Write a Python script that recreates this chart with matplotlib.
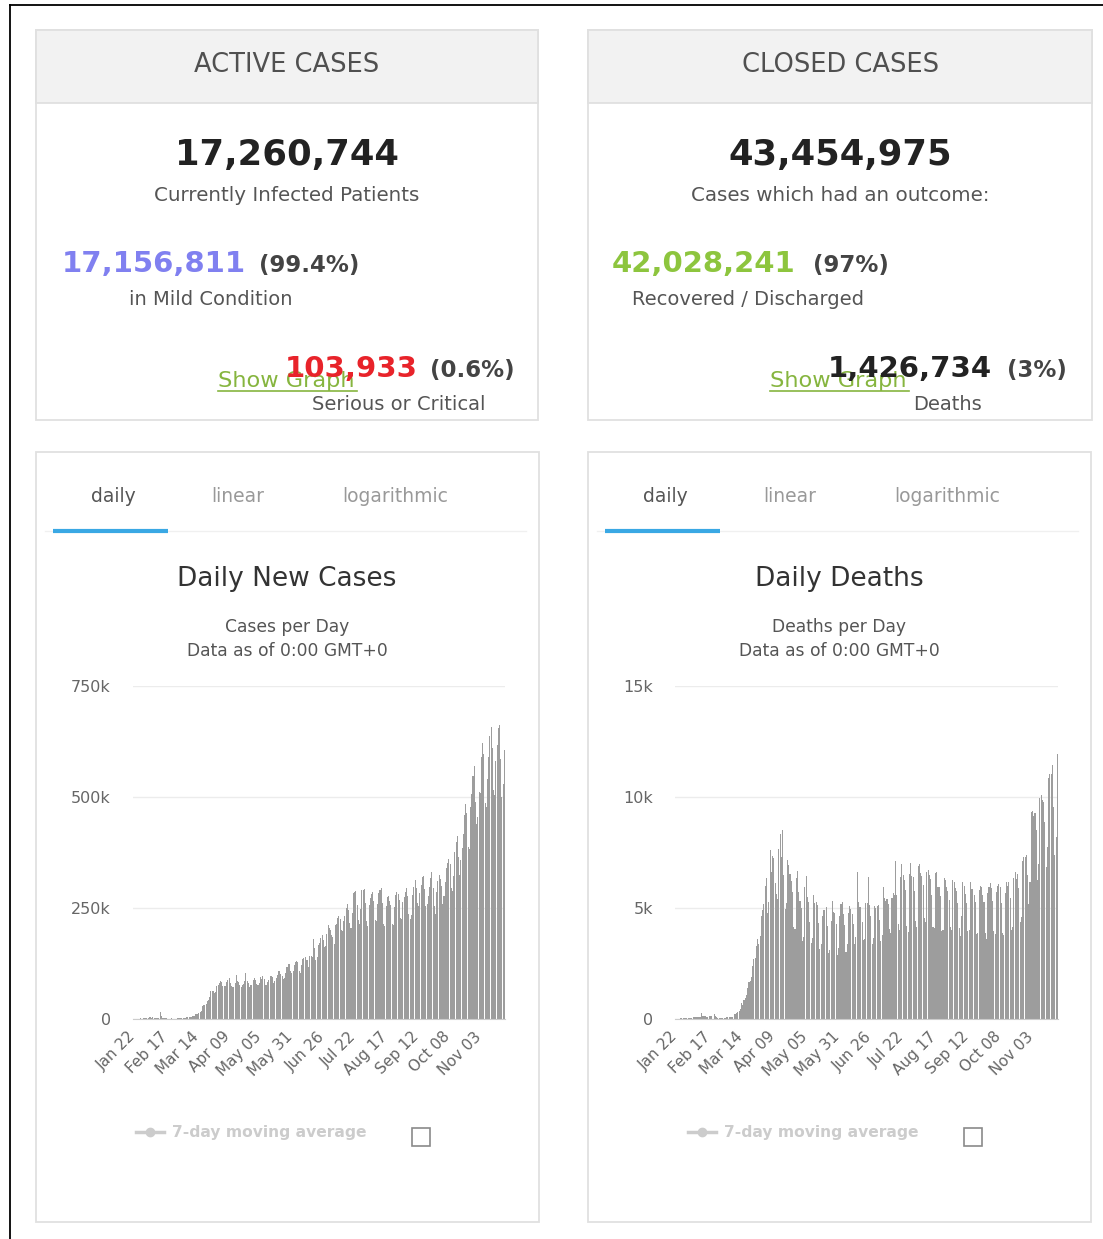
import pandas as pd
import matplotlib
matplotlib.use("Agg")
import matplotlib.pyplot as plt
from matplotlib.patches import Rectangle
from matplotlib.lines import Line2D

plt.rcParams['font.family'] = ['DejaVu Sans']

W, H = 1103, 1239

# ---- summary numbers ----
active_total = "17,260,744"
mild_cases, mild_pct = "17,156,811", "99.4%"
serious_cases, serious_pct = "103,933", "0.6%"
closed_total = "43,454,975"
recovered, recovered_pct = "42,028,241", "97%"
deaths_total, deaths_pct = "1,426,734", "3%"

# ---- daily new cases (thousands), 2020-01-22 .. 2020-11-24 ----
cases_jan = [0.6, 0.1, 0.3, 0.5, 0.7, 0.8, 2.7, 0.6, 2.1, 1.7]
cases_feb = [2.1, 2.6, 3.2, 3.9, 3.7, 3.2, 3.4, 2.7, 3.0, 2.5, 2.0, 2.0, 15.1, 6.5, 2.1,
             2.1, 2.0, 1.9, 0.5, 0.6, 1.0, 1.4, 0.6, 0.6, 0.9, 1.1, 1.4, 1.5, 1.8]
cases_mar = [1.9, 2.0, 2.5, 2.3, 2.8, 3.9, 4.1, 3.8, 4.0, 4.6, 7.2, 7.6, 10.6, 10.8, 11.1, 14.0,
             15.4, 18.5, 28.5, 32.4, 31.5, 33.8, 39.9, 41.8, 49.3, 62.0, 63.3, 63.4, 58.6, 60.1, 75.4]
cases_apr = [77.3, 80.0, 84.5, 84.4, 73.9, 73.2, 73.8, 83.0, 87.1, 91.4, 81.3, 73.6, 71.6, 73.1, 81.0,
             98.0, 86.7, 82.4, 77.7, 73.1, 76.5, 79.8, 86.5, 103.0, 86.5, 81.0, 72.0, 76.8, 77.0, 88.9]
cases_may = [93, 87, 79, 77.7, 82, 94, 91, 96, 89, 77, 76, 84, 87, 96, 97, 95,
             80, 86, 93, 99, 107, 108, 102, 97, 91, 93, 104, 116, 125, 124, 108]
cases_jun = [103, 107, 121, 128, 131, 128, 107, 103, 122, 136, 138, 140, 134, 132, 118,
             143, 142, 140, 181, 159, 132, 140, 167, 171, 182, 190, 178, 163, 165, 191]
cases_jul = [212, 206, 200, 190, 184, 170, 212, 215, 228, 232, 226, 200, 198, 220, 233, 251,
             258, 246, 216, 206, 238, 283, 285, 289, 256, 222, 215, 248, 290, 291, 292]
cases_aug = [262, 221, 210, 256, 272, 282, 287, 265, 224, 221, 258, 283, 290, 294, 262, 213,
             209, 254, 275, 276, 265, 256, 213, 211, 252, 280, 285, 282, 267, 227, 226]
cases_sep = [264, 274, 287, 295, 276, 236, 226, 234, 280, 298, 313, 295, 261, 255, 283,
             302, 319, 323, 292, 255, 260, 277, 297, 317, 332, 296, 254, 237, 285, 310]
cases_oct = [324, 316, 300, 260, 278, 308, 339, 352, 361, 348, 296, 289, 321, 376, 398, 413,
             365, 325, 357, 386, 416, 460, 484, 465, 388, 383, 478, 506, 547, 570, 488]
cases_nov = [440, 456, 511, 509, 591, 622, 597, 487, 478, 540, 589, 638, 657, 611, 515,
             504, 580, 616, 656, 662, 585, 500, 530, 605]

# ---- daily deaths ----
deaths_jan = [0, 8, 16, 15, 24, 26, 26, 38, 43, 46]
deaths_feb = [45, 57, 64, 66, 73, 73, 86, 89, 97, 108, 97, 254, 121, 143, 142,
              106, 98, 139, 115, 125, 3, 208, 154, 79, 63, 62, 45, 58, 67]
deaths_mar = [55, 67, 72, 84, 80, 100, 104, 97, 228, 209, 272, 336, 350, 428, 742, 649,
              872, 956, 1098, 1384, 1670, 1719, 1911, 2394, 2720, 2726, 3296, 3586, 3389, 3737, 4629]
deaths_apr = [4913, 5159, 5987, 6354, 4753, 5268, 7612, 6627, 7342, 7246, 6112, 5613, 5396, 7665, 8315,
              7301, 8516, 6488, 4945, 5211, 7173, 6946, 6544, 6225, 5717, 4166, 4059, 6353, 6672, 5739]
deaths_may = [5323, 4988, 3517, 3689, 5935, 6458, 5495, 5288, 4382, 3443, 3628, 5597, 5205, 5268, 5133, 4307,
              3144, 3380, 4623, 4917, 4903, 5062, 4178, 2958, 3109, 4414, 5317, 4816, 4786, 4265, 2871]
deaths_jun = [3183, 4660, 5161, 5264, 4731, 4244, 3019, 3383, 4754, 5076, 4963, 4751, 4267, 3376, 3681,
              6622, 5273, 5047, 5030, 4386, 3542, 3610, 5210, 5225, 6400, 5122, 4618, 3381, 3667, 5110]
deaths_jul = [5014, 5085, 5138, 4460, 3520, 3774, 5952, 5467, 5323, 5391, 5194, 4046, 3890, 5458, 5665, 5589,
              7128, 5592, 4290, 4015, 6390, 6962, 6474, 6241, 5830, 4173, 3939, 6553, 7010, 6425, 6410]
deaths_aug = [5771, 4397, 4140, 6877, 7003, 6564, 6457, 6014, 4537, 4373, 6608, 6694, 6493, 6306, 5601, 4161,
              4119, 6558, 6619, 5964, 5939, 5542, 3979, 4020, 6332, 6271, 5955, 5749, 5359, 4162, 4029]
deaths_sep = [6270, 6187, 5893, 5785, 5219, 4088, 3758, 4639, 6173, 6013, 5628, 5239, 3979, 4011, 6164,
              5837, 5847, 5605, 5263, 3833, 3858, 5826, 6004, 5948, 5581, 5260, 3864, 3611, 5677, 5934]
deaths_oct = [6137, 5887, 5297, 3961, 3826, 5705, 6006, 6075, 5934, 5242, 3889, 3779, 5693, 6171, 6010, 6175,
              5459, 4003, 4126, 6330, 6611, 6326, 6525, 5919, 4386, 4614, 7097, 7315, 7296, 7369, 6495]
deaths_nov = [5185, 6159, 9330, 9386, 9126, 9288, 8536, 6271, 6995, 9940, 10087, 9860, 9777, 8869, 6846,
              7754, 10850, 11031, 11036, 11456, 9561, 7365, 8188, 11950]

new_cases = (cases_jan + cases_feb + cases_mar + cases_apr + cases_may + cases_jun
             + cases_jul + cases_aug + cases_sep + cases_oct + cases_nov)
new_deaths = (deaths_jan + deaths_feb + deaths_mar + deaths_apr + deaths_may + deaths_jun
              + deaths_jul + deaths_aug + deaths_sep + deaths_oct + deaths_nov)

start_date = "2020-01-22"
tick_labels = ["Jan 22", "Feb 17", "Mar 14", "Apr 09", "May 05", "May 31",
               "Jun 26", "Jul 22", "Aug 17", "Sep 12", "Oct 08", "Nov 03"]
cases_yticks, cases_ylabels = [0, 250, 500, 750], ["0", "250k", "500k", "750k"]
deaths_yticks, deaths_ylabels = [0, 5000, 10000, 15000], ["0", "5k", "10k", "15k"]

GREY_TXT = '#555555'
BAR = '#9d9d9d'
GREEN_LINK = '#86b53f'


def box(x0, y0, x1, y1):
    # pixel box (top-left origin) -> figure fraction
    return [x0 / W, 1 - y1 / H, (x1 - x0) / W, (y1 - y0) / H]


fig = plt.figure(figsize=(W / 100, H / 100), dpi=100)
bg = fig.add_axes([0, 0, 1, 1])
bg.set_xlim(0, W)
bg.set_ylim(H, 0)
bg.axis('off')

# outer frame
bg.plot([10, 10], [5, H], color='black', lw=1.3)
bg.plot([10, W], [5, 5], color='black', lw=1.3)


def card(x0, y0, x1, y1, header=None):
    bg.add_patch(Rectangle((x0, y0), x1 - x0, y1 - y0, facecolor='white',
                           edgecolor='#e0e0e0', lw=1.3, zorder=1))
    if header:
        bg.add_patch(Rectangle((x0, y0), x1 - x0, 73, facecolor='#f2f2f2',
                               edgecolor='#e0e0e0', lw=1.3, zorder=2))
        bg.text((x0 + x1) / 2, y0 + 35, header, ha='center', va='center',
                fontsize=18.5, color='#505050', zorder=3)


# ---- top cards ----
card(36, 30, 538, 420, "ACTIVE CASES")
card(588, 30, 1092, 420, "CLOSED CASES")

bg.text(287, 165, active_total, ha='center', va='baseline', fontsize=25.5,
        fontweight='bold', color='#222222')
bg.text(287, 201, "Currently Infected Patients", ha='center', va='baseline',
        fontsize=14.3, color=GREY_TXT)
bg.text(62, 272, mild_cases, va='baseline', fontsize=21, fontweight='bold', color='#8080f0')
bg.text(259, 272, "(" + mild_pct + ")", va='baseline', fontsize=16.5, fontweight='bold', color='#444444')
bg.text(129, 305, "in Mild Condition", va='baseline', fontsize=14, color=GREY_TXT)
bg.text(218, 387, "Show Graph", va='baseline', fontsize=16.2, color=GREEN_LINK)
bg.plot([218, 357], [391, 391], color=GREEN_LINK, lw=1.2)
bg.text(285, 377, serious_cases, va='baseline', fontsize=21, fontweight='bold', color='#e8232a')
bg.text(430, 377, "(" + serious_pct + ")", va='baseline', fontsize=16.5, fontweight='bold', color='#444444')
bg.text(312, 410, "Serious or Critical", va='baseline', fontsize=14, color=GREY_TXT)

bg.text(840, 165, closed_total, ha='center', va='baseline', fontsize=25.5,
        fontweight='bold', color='#222222')
bg.text(840, 201, "Cases which had an outcome:", ha='center', va='baseline',
        fontsize=14.3, color=GREY_TXT)
bg.text(612, 272, recovered, va='baseline', fontsize=21, fontweight='bold', color='#8dc53e')
bg.text(813, 272, "(" + recovered_pct + ")", va='baseline', fontsize=16.5, fontweight='bold', color='#444444')
bg.text(632, 305, "Recovered / Discharged", va='baseline', fontsize=14, color=GREY_TXT)
bg.text(770, 387, "Show Graph", va='baseline', fontsize=16.2, color=GREEN_LINK)
bg.plot([770, 909], [391, 391], color=GREEN_LINK, lw=1.2)
bg.text(828, 377, deaths_total, va='baseline', fontsize=21, fontweight='bold', color='#222222')
bg.text(1007, 377, "(" + deaths_pct + ")", va='baseline', fontsize=16.5, fontweight='bold', color='#444444')
bg.text(913, 410, "Deaths", va='baseline', fontsize=14, color=GREY_TXT)

# ---- chart cards ----
dates = pd.date_range(start_date, periods=len(new_cases))
date_labels = list(dates.strftime("%b %d"))
tick_pos = [date_labels.index(t) for t in tick_labels]


def chart_card(x0, title, subtitle, values, yticks, ylabels, ax_box):
    card(x0, 452, x0 + 503, 1222)
    cx = x0 + 251
    bg.plot([x0 + 9, x0 + 490], [531, 531], color='#f0f0f0', lw=1)
    bg.plot([x0 + 17, x0 + 132], [531, 531], color='#3aa8e4', lw=3, solid_capstyle='butt')
    bg.text(x0 + 77, 497, "daily", ha='center', va='center', fontsize=13.5, color=GREY_TXT)
    bg.text(x0 + 202, 497, "linear", ha='center', va='center', fontsize=13.5, color='#999999')
    bg.text(x0 + 359, 497, "logarithmic", ha='center', va='center', fontsize=13.5, color='#999999')
    bg.text(cx, 579, title, ha='center', va='center', fontsize=19, color='#333333')
    bg.text(cx, 627, subtitle, ha='center', va='center', fontsize=12.3, color=GREY_TXT)
    bg.text(cx, 651, "Data as of 0:00 GMT+0", ha='center', va='center', fontsize=12.3, color=GREY_TXT)

    ax = fig.add_axes(box(*ax_box))
    ax.bar(range(len(values)), values, width=0.85, color=BAR, linewidth=0)
    ax.set_xlim(-0.5, len(values) - 0.5)
    ax.set_ylim(0, yticks[-1])
    ax.set_yticks(yticks, ylabels)
    ax.set_xticks(tick_pos, tick_labels, rotation=45, ha='right',
                  rotation_mode='anchor', va='center')
    ax.tick_params(axis='y', length=0, pad=16, labelsize=11.5, labelcolor='#666666')
    ax.tick_params(axis='x', length=0, pad=11, labelsize=11, labelcolor='#666666')
    ax.yaxis.grid(True, color='#ececec', lw=1)
    ax.set_axisbelow(True)
    for s in ['top', 'right', 'left']:
        ax.spines[s].set_visible(False)
    ax.spines['bottom'].set_color('#cccccc')
    ax.patch.set_alpha(0)

    handle = Line2D([], [], color='#cccccc', lw=2.5, marker='o', markersize=6)
    ax.legend([handle], ["7-day moving average"], loc='center left',
              bbox_to_anchor=(x0 + 86, 1133), bbox_transform=bg.transData,
              frameon=False, labelcolor='#cccccc', handlelength=1.8,
              handletextpad=0.5, prop={'size': 11.2, 'weight': 'bold'})
    bg.add_patch(Rectangle((x0 + 376, 1128), 18, 18, facecolor='white',
                           edgecolor='#8a8a8a', lw=1.2, zorder=3))
    return ax


chart_card(36, "Daily New Cases", "Cases per Day", new_cases,
           cases_yticks, cases_ylabels, (133, 686, 505, 1019))
chart_card(588, "Daily Deaths", "Deaths per Day", new_deaths,
           deaths_yticks, deaths_ylabels, (675, 686, 1058, 1019))

fig.savefig("out.png", dpi=100)
